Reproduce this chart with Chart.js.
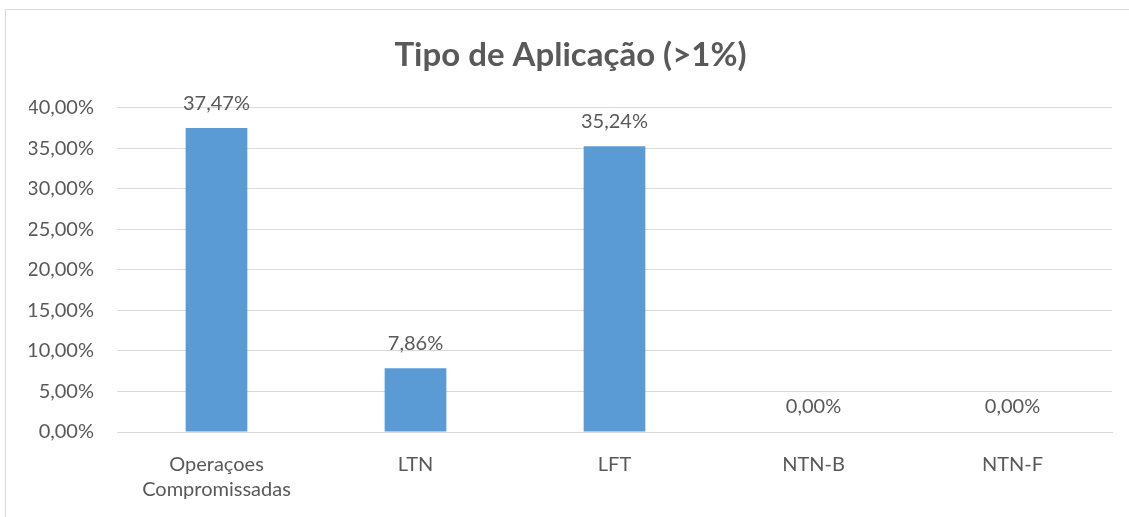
<!DOCTYPE html>
<html><head><meta charset="utf-8">
<script src="https://cdn.jsdelivr.net/npm/chart.js@4"></script>
<style>html,body{margin:0;padding:0;background:#fff;}#wrap{width:1129px;height:517px;position:relative;}</style>
</head><body><div id="wrap"><canvas id="c" width="1129" height="517"></canvas></div>
<script>
const categories = [["Operaçoes","Compromissadas"], "LTN", "LFT", "NTN-B", "NTN-F"];
const values = [37.47, 7.86, 35.24, 0.00, 0.00];
const yTicks = [0, 5, 10, 15, 20, 25, 30, 35, 40];
const titleText = "Tipo de Aplicação (>1%)";

const fmt = v => v.toFixed(2).replace('.', ',') + '%';
const FONT = "Lato, 'Open Sans', sans-serif";
const GREY = '#595959';

const frame = {
  id: 'frame',
  beforeDraw(chart) {
    const ctx = chart.ctx;
    ctx.save();
    ctx.strokeStyle = '#D9D9D9';
    ctx.lineWidth = 1;
    ctx.strokeRect(5.5, 9.5, 1128, 520);
    ctx.restore();
  }
};
const labels = {
  id: 'labels',
  afterDatasetsDraw(chart) {
    const ctx = chart.ctx;
    const meta = chart.getDatasetMeta(0);
    ctx.save();
    ctx.font = "20px " + FONT;
    ctx.fillStyle = GREY;
    ctx.textAlign = 'center';
    ctx.textBaseline = 'middle';
    meta.data.forEach((bar, i) => {
      ctx.fillText(fmt(values[i]), bar.x, bar.y - 25);
    });
    ctx.restore();
  }
};

new Chart(document.getElementById('c'), {
  type: 'bar',
  data: {
    labels: categories,
    datasets: [{ data: values, backgroundColor: '#5B9BD5', barPercentage: 0.31, categoryPercentage: 1 }]
  },
  options: {
    responsive: false,
    animation: false,
    layout: { padding: { left: 29, right: 17, top: 26, bottom: 0 } },
    plugins: {
      legend: { display: false },
      tooltip: { enabled: false },
      title: { display: true, text: titleText, color: GREY, font: { family: FONT, size: 33, weight: 'bold' }, padding: { top: 10, bottom: 32 } }
    },
    scales: {
      y: {
        min: 0, max: 40,
        afterBuildTicks: axis => { axis.ticks = yTicks.map(v => ({ value: v })); },
        afterFit: axis => { axis.width = 88; },
        border: { display: false },
        grid: { color: '#D9D9D9', lineWidth: 1, drawTicks: false },
        ticks: { color: GREY, padding: 23, font: { family: FONT, size: 20 }, callback: v => fmt(v) }
      },
      x: {
        afterFit: axis => { axis.height = 85; },
        border: { display: true, color: '#D9D9D9' },
        grid: { display: false, drawTicks: false },
        ticks: { color: GREY, padding: 20, font: { family: FONT, size: 20, lineHeight: 1.25 }, maxRotation: 0 }
      }
    }
  },
  plugins: [frame, labels]
});
</script></body></html>
